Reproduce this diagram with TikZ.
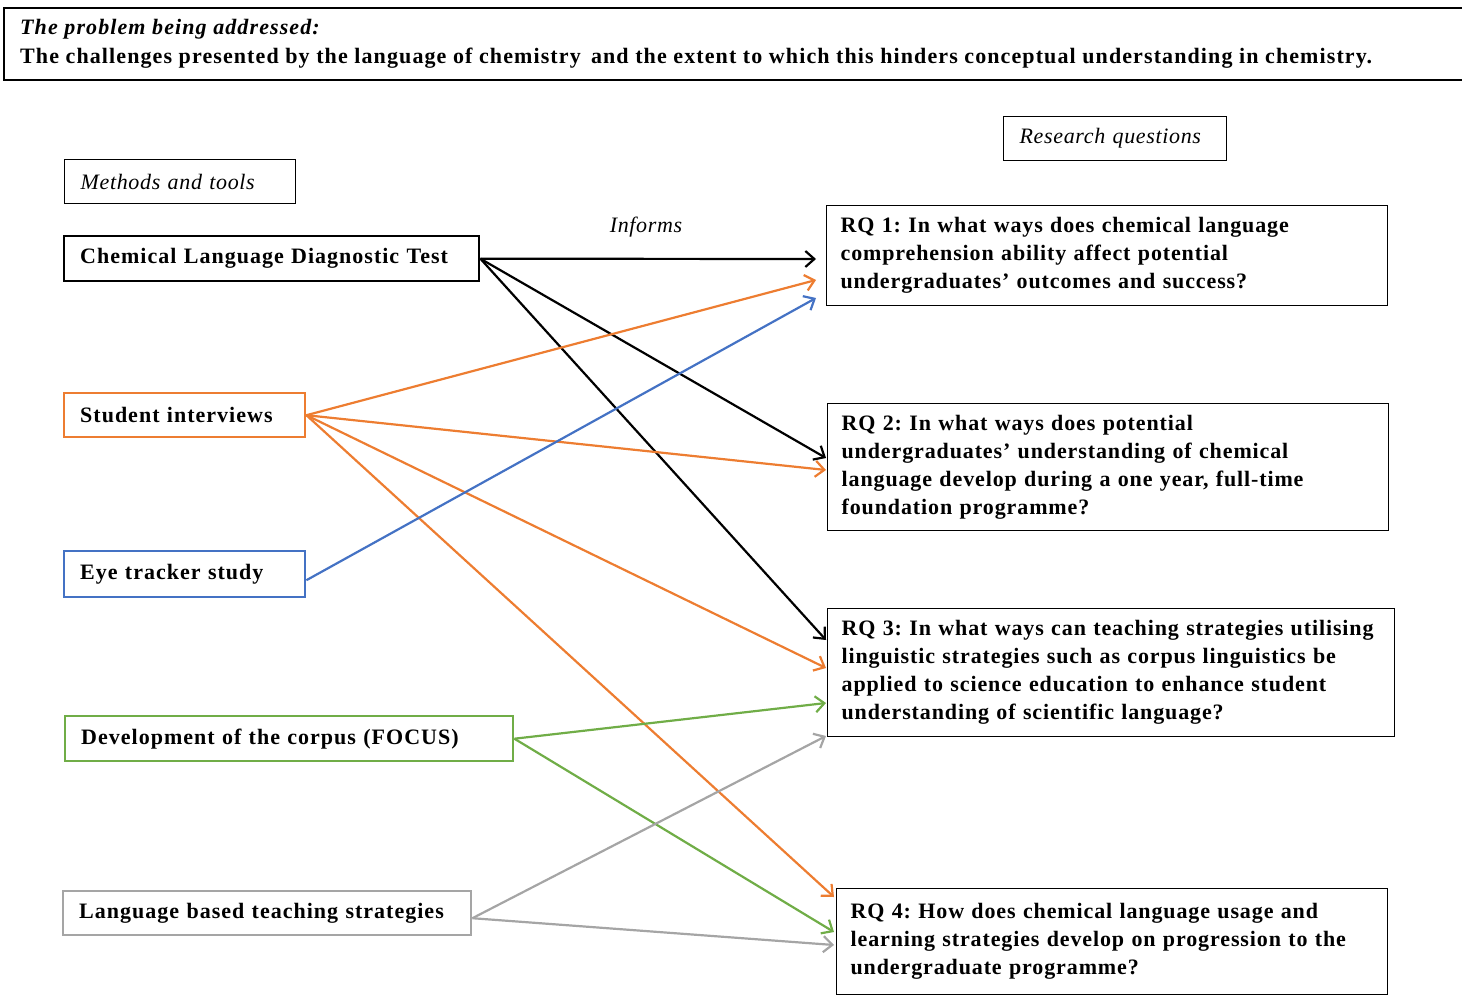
\documentclass[tikz,border=0pt]{standalone}
\usepackage{fontspec}
\setmainfont{Liberation Serif}
\newfontfamily\bannerserif[LetterSpace=5]{Liberation Serif}
\newfontfamily\wideserif[LetterSpace=4.6]{Liberation Serif}
\newfontfamily\rqserif[LetterSpace=4]{Liberation Serif}
\newfontfamily\openserif[LetterSpace=3]{Liberation Serif}
\frenchspacing
\usetikzlibrary{arrows.meta}
\definecolor{orng}{HTML}{ED7D31}
\definecolor{blu}{HTML}{4472C4}
\definecolor{grn}{HTML}{70AD47}
\definecolor{gry}{HTML}{A5A5A5}
\tikzset{
  box/.style={draw, line width=1.3pt, anchor=north west, inner xsep=16pt, inner ysep=0pt, align=left},
  method/.style={box, line width=2.4pt, font=\wideserif\fontsize{22}{26}\selectfont\bfseries},
  rq/.style={box, inner xsep=14pt, font=\rqserif\fontsize{22}{28}\selectfont\bfseries},
  label/.style={box, font=\openserif\fontsize{22}{26}\selectfont\itshape},
  link/.style={line width=2.2pt, -{Straight Barb[length=9pt,width=16pt,line width=2.2pt]}},
}
\begin{document}
\begin{tikzpicture}[x=1pt,y=-1pt]
\useasboundingbox (0,0) rectangle (1462,996);

% problem statement banner, running off the right edge
\draw[line width=1.3pt] (1470,8) -- (4,8) -- (4,80) -- (1470,80);
\node[anchor=base west, inner sep=0pt, font=\bannerserif\fontsize{22}{26}\selectfont\bfseries\itshape] (prob) at (20,34) {The problem being addressed:};
\node[anchor=base west, inner sep=0pt, font=\bannerserif\fontsize{22}{26}\selectfont\bfseries] (chal) at (20,63) {The challenges presented by the language of chemistry\, and the extent to which this hinders conceptual understanding in chemistry.};

% column headings
\node[label, minimum width=223pt, minimum height=44pt, text width=191pt, inner xsep=15pt] (rqhead) at (1003,116) {Research questions};
\node[label, minimum width=231pt, minimum height=44pt, text width=199pt] (mhead) at (64,159) {Methods and tools};
\node[font=\openserif\fontsize{22}{26}\selectfont\itshape] (inf) at (646,227) {Informs};

% methods and tools
\node[method, minimum width=415pt, minimum height=45pt, text width=383pt] (cldt) at (63,235) {Chemical Language Diagnostic Test};
\node[method, draw=orng, minimum width=241pt, minimum height=44pt, text width=209pt] (si) at (63,392) {Student interviews};
\node[method, draw=blu, minimum width=241pt, minimum height=46pt, text width=209pt] (eye) at (63,550) {Eye tracker study};
\node[method, draw=grn, minimum width=448pt, minimum height=45pt, text width=416pt] (dev) at (64,715) {Development of the corpus (FOCUS)};
\node[method, draw=gry, minimum width=408pt, minimum height=44pt, text width=376pt] (lbt) at (62,890) {Language based teaching strategies};

% research questions
\node[rq, minimum width=561pt, minimum height=100pt, text width=533pt] (rq1) at (826,205)
  {RQ 1: In what ways does chemical language\\comprehension ability affect potential\\undergraduates’ outcomes and success?};
\node[rq, minimum width=561pt, minimum height=127pt, text width=533pt] (rq2) at (827,403)
  {RQ 2: In what ways does potential\\undergraduates’ understanding of chemical\\language develop during a one year, full-time\\foundation programme?};
\node[rq, minimum width=567pt, minimum height=128pt, text width=539pt] (rq3) at (827,608)
  {RQ 3: In what ways can teaching strategies utilising\\linguistic strategies such as corpus linguistics be\\applied to science education to enhance student\\understanding of scientific language?};
\node[rq, minimum width=551pt, minimum height=106pt, text width=523pt] (rq4) at (836,888)
  {RQ 4: How does chemical language usage and\\learning strategies develop on progression to the\\undergraduate programme?};

% links from methods to questions
\draw[link] (cldt.east) -- ([shift={(-10,54)}]rq1.north west);
\draw[link] (cldt.east) -- ([shift={(-1,55)}]rq2.north west);
\draw[link] (cldt.east) -- ([shift={(-1,32)}]rq3.north west);

\draw[link, orng] (si.east) -- ([shift={(-10,75)}]rq1.north west);
\draw[link, orng] (si.east) -- ([shift={(-1,67)}]rq2.north west);
\draw[link, orng] (si.east) -- ([shift={(-1,60)}]rq3.north west);
\draw[link, orng] (si.east) -- ([shift={(-2,9)}]rq4.north west);

\draw[link, blu] ([yshift=-6pt]eye.east) -- ([shift={(-10,93)}]rq1.north west);

\draw[link, grn] (dev.east) -- ([shift={(-1,95)}]rq3.north west);
\draw[link, grn] (dev.east) -- ([shift={(-2,44)}]rq4.north west);

\draw[link, gry] ([yshift=-5pt]lbt.east) -- ([shift={(-1,128)}]rq3.north west);
\draw[link, gry] ([yshift=-5pt]lbt.east) -- ([shift={(-2,57)}]rq4.north west);
\end{tikzpicture}
\end{document}
